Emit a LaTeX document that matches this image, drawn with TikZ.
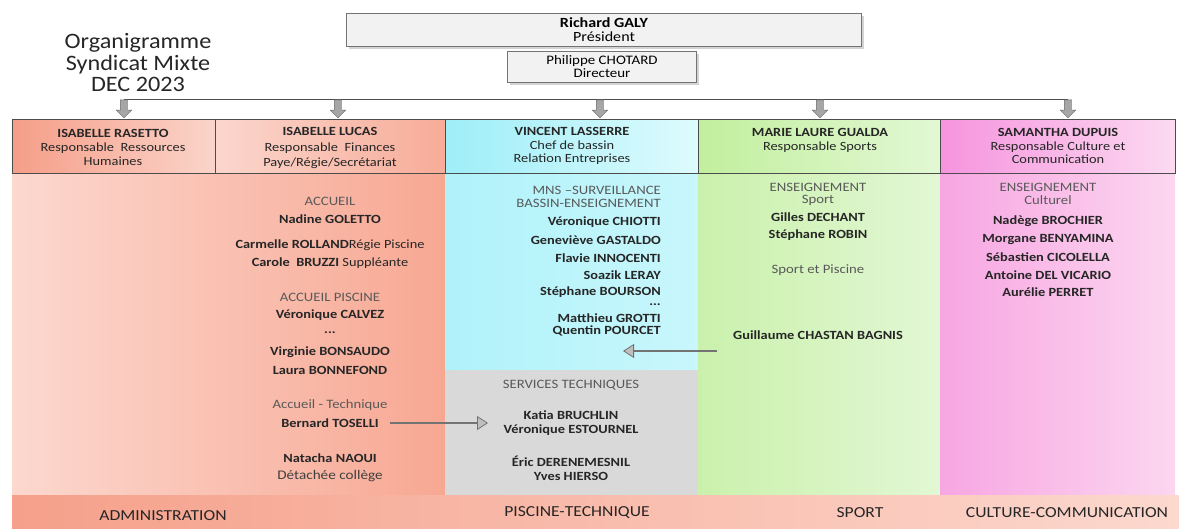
\documentclass[tikz,border=0pt]{standalone}
\usepackage{fontspec}
\setmainfont{Carlito}[FakeStretch=1.15]
\newfontfamily\titlefont{Carlito}[FakeStretch=1.1]
\usetikzlibrary{shapes.arrows, arrows.meta, shadows}
\definecolor{rasL}{RGB}{245,158,136}
\definecolor{rasR}{RGB}{251,212,202}
\definecolor{lucL}{RGB}{251,214,205}
\definecolor{lucR}{RGB}{247,172,152}
\definecolor{admL}{RGB}{252,216,207}
\definecolor{admR}{RGB}{247,168,147}
\definecolor{cyaL}{RGB}{158,238,248}
\definecolor{cyaR}{RGB}{222,251,253}
\definecolor{cyaBL}{RGB}{176,242,250}
\definecolor{cyaBR}{RGB}{200,247,252}
\definecolor{tecgray}{RGB}{217,217,217}
\definecolor{grnL}{RGB}{194,239,158}
\definecolor{grnR}{RGB}{226,248,212}
\definecolor{grnBL}{RGB}{202,241,172}
\definecolor{grnBR}{RGB}{226,247,212}
\definecolor{pnkL}{RGB}{246,148,222}
\definecolor{pnkR}{RGB}{252,218,241}
\definecolor{pnkBL}{RGB}{247,166,226}
\definecolor{pnkBR}{RGB}{252,214,240}
\definecolor{ftL}{RGB}{245,160,138}
\definecolor{ftR}{RGB}{252,216,206}
\definecolor{inkgray}{RGB}{89,89,89}

\tikzset{
  topbox/.style={draw=black!55, fill=black!5, line width=0.6pt, align=center, inner sep=1pt,
    drop shadow={opacity=0.35, shadow xshift=2pt, shadow yshift=-2pt}},
  hdrcell/.style={draw=black!70, line width=0.6pt},
  hdrtext/.style={align=center, inner sep=1pt, font=\fontsize{12.5}{14}\selectfont, text=black!85},
  sect/.style={font=\fontsize{12.8}{13}\selectfont, text=inkgray, inner sep=1pt},
  person/.style={font=\fontsize{12.5}{13}\selectfont\bfseries, text=black!85, inner sep=1pt},
  note/.style={font=\fontsize{13.2}{13}\selectfont, text=black!75, inner sep=1pt},
  band/.style={font=\fontsize{15.3}{16}\selectfont, text=black!85},
  downarrow/.style={single arrow, shape border rotate=270, draw=black!60, fill=black!35,
    minimum height=18pt, inner sep=3.5pt, single arrow head extend=4pt},
  movearrow/.style={draw=black!55, line width=2.6pt,
    -{Triangle[length=11pt, width=14pt, fill=black!25, line width=0.8pt]}}
}

\begin{document}
\begin{tikzpicture}[x=1pt, y=-1pt]
  \useasboundingbox (0,0) rectangle (1179,528);

  % title
  \node[align=center, inner sep=0pt, font=\titlefont\fontsize{22}{21.5}\selectfont, text=black!85] (title) at (138,63)
    {Organigramme\\Syndicat Mixte\\DEC 2023};

  % president and director
  \node[topbox, minimum width=515, minimum height=33, font=\fontsize{14}{14}\selectfont] (pres) at (604,30)
    {\textbf{Richard GALY}\\Président};
  \node[topbox, minimum width=189, minimum height=31, font=\fontsize{13}{13}\selectfont] (dir) at (602,67)
    {Philippe CHOTARD\\Directeur};

  % distribution line and arrows
  \coordinate (lineL) at (124,99);
  \coordinate (lineR) at (1068,99);
  \draw[black!70, line width=0.8pt] (lineL) -- (lineR);
  \node[downarrow] (arrRas) at (124,107) {};
  \node[downarrow] (arrLuc) at (338,107) {};
  \node[downarrow] (arrLas) at (600,107) {};
  \node[downarrow] (arrGua) at (820,107) {};
  \node[downarrow] (arrDup) at (1068,107) {};

  % column bodies
  \fill[left color=admL, right color=admR] (12,173) rectangle (445,495);
  \fill[left color=cyaBL, right color=cyaBR] (445,173) rectangle (698,370);
  \fill[tecgray] (445,370) rectangle (698,495);
  \fill[left color=grnBL, right color=grnBR] (698,173) rectangle (940,495);
  \fill[left color=pnkBL, right color=pnkBR] (940,173) rectangle (1175,495);

  % bottom band
  \fill[left color=ftL, right color=ftR] (12,495) rectangle (1179,528);
  \node[band] (bAdm) at (163,516) {ADMINISTRATION};
  \node[band] (bPis) at (577,513) {PISCINE-TECHNIQUE};
  \node[band] (bSpo) at (860,513) {SPORT};
  \node[band] (bCul) at (1067,513) {CULTURE-COMMUNICATION};

  % header cells
  \draw[hdrcell, left color=rasL, right color=rasR] (12,119) rectangle (215,173);
  \draw[hdrcell, left color=lucL, right color=lucR] (215,119) rectangle (445,173);
  \draw[hdrcell, left color=cyaL, right color=cyaR] (445,119) rectangle (698,173);
  \draw[hdrcell, left color=grnL, right color=grnR] (698,119) rectangle (940,173);
  \draw[hdrcell, left color=pnkL, right color=pnkR] (940,119) rectangle (1175,173);

  \node[hdrtext] (hRas) at (113,147)
    {\textbf{ISABELLE RASETTO}\\Responsable\ \ Ressources\\Humaines};
  \node[hdrtext, font=\fontsize{12.5}{15.5}\selectfont] (hLuc) at (330,148)
    {\textbf{ISABELLE LUCAS}\\Responsable\ \ Finances\\Paye/Régie/Secrétariat};
  \node[hdrtext, font=\fontsize{12.5}{13.5}\selectfont] (hLas) at (572,146)
    {\textbf{VINCENT LASSERRE}\\Chef de bassin\\Relation Entreprises};
  \node[hdrtext] (hGua) at (820,140)
    {\textbf{MARIE LAURE GUALDA}\\Responsable Sports};
  \node[hdrtext, font=\fontsize{12.5}{13.5}\selectfont] (hDup) at (1058,146)
    {\textbf{SAMANTHA DUPUIS}\\Responsable Culture et\\Communication};

  % administration
  \node[sect] (sAcc) at (330,201) {ACCUEIL};
  \node[person] (pGol) at (330,219) {Nadine GOLETTO};
  \node[person] (pRol) at (330,245) {Carmelle ROLLAND\mdseries Régie Piscine};
  \node[person] (pBru) at (330,263) {Carole\ \ BRUZZI\mdseries\ Suppléante};
  \node[sect] (sAccP) at (330,297) {ACCUEIL PISCINE};
  \node[person] (pCal) at (330,315) {Véronique CALVEZ};
  \node[person] (pDot1) at (330,333) {...};
  \node[person] (pBon) at (330,352) {Virginie BONSAUDO};
  \node[person] (pLau) at (330,370) {Laura BONNEFOND};
  \node[sect] (sTec) at (330,405) {Accueil - Technique};
  \node[person] (pTos) at (330,423) {Bernard TOSELLI};
  \node[person] (pNao) at (330,458) {Natacha NAOUI};
  \node[note] (nDet) at (330,476) {Détachée collège};

  % piscine
  \node[sect, anchor=east] (sMns) at (662,190) {MNS –SURVEILLANCE};
  \node[sect, anchor=east] (sBas) at (662,203) {BASSIN-ENSEIGNEMENT};
  \node[person, anchor=east] (pChi) at (662,222) {Véronique CHIOTTI};
  \node[person, anchor=east] (pGas) at (662,240) {Geneviève GASTALDO};
  \node[person, anchor=east] (pInn) at (662,258) {Flavie INNOCENTI};
  \node[person, anchor=east] (pLer) at (662,275) {Soazik LERAY};
  \node[person, anchor=east] (pBou) at (662,292) {Stéphane BOURSON};
  \node[person, anchor=east] (pDot2) at (662,305) {...};
  \node[person, anchor=east] (pGro) at (662,318) {Matthieu GROTTI};
  \node[person, anchor=east] (pPou) at (662,331) {Quentin POURCET};

  % technique
  \node[sect] (sSer) at (571,385) {SERVICES TECHNIQUES};
  \node[person] (pBch) at (571,415) {Katia BRUCHLIN};
  \node[person] (pEst) at (571,430) {Véronique ESTOURNEL};
  \node[person] (pDer) at (571,461) {Éric DERENEMESNIL};
  \node[person] (pHie) at (571,476) {Yves HIERSO};

  % sport
  \node[sect] (sEnsS) at (818,187) {ENSEIGNEMENT};
  \node[sect] (sSpo) at (818,200) {Sport};
  \node[person] (pDec) at (818,217) {Gilles DECHANT};
  \node[person] (pRob) at (818,235) {Stéphane ROBIN};
  \node[sect] (sSpP) at (818,270) {Sport et Piscine};
  \node[person] (pCha) at (818,335) {Guillaume CHASTAN BAGNIS};

  % culture
  \node[sect] (sEnsC) at (1048,187) {ENSEIGNEMENT};
  \node[sect] (sCul) at (1048,200) {Culturel};
  \node[person] (pBro) at (1048,221) {Nadège BROCHIER};
  \node[person] (pBen) at (1048,240) {Morgane BENYAMINA};
  \node[person] (pCic) at (1048,257) {Sébastien CICOLELLA};
  \node[person] (pVic) at (1048,275) {Antoine DEL VICARIO};
  \node[person] (pPer) at (1048,292) {Aurélie PERRET};

  % transfers
  \coordinate (tosEnd) at (488,423);
  \draw[movearrow, shorten <=10pt] (pTos.east) -- (tosEnd);
  \coordinate (chaStart) at (717,351);
  \coordinate (chaEnd) at (623,351);
  \draw[movearrow] (chaStart) -- (chaEnd);
\end{tikzpicture}
\end{document}
